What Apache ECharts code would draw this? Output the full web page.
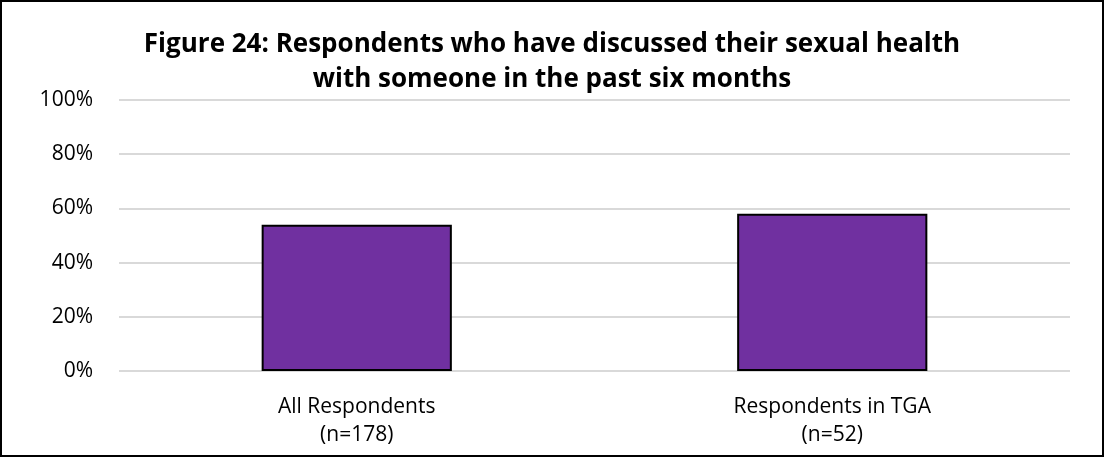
<!DOCTYPE html>
<html>
<head>
<meta charset="utf-8">
<script src="https://cdn.jsdelivr.net/npm/echarts@6/dist/echarts.min.js"></script>
<style>
  html, body { margin: 0; padding: 0; background: #fff; }
  #chart { width: 1104px; height: 457px; box-sizing: border-box; border: 2px solid #000; }
</style>
</head>
<body>
<div id="chart"></div>
<script>
// Survey groups and share who discussed sexual health (%)
const categories = ['All Respondents\n(n=178)', 'Respondents in TGA\n(n=52)'];
const discussedPct = [54, 58];
const yTicks = [0, 20, 40, 60, 80, 100];

const chart = echarts.init(document.getElementById('chart'));
chart.setOption({
  animation: false,
  title: {
    text: 'Figure 24: Respondents who have discussed their sexual health\nwith someone in the past six months',
    left: 'center',
    top: 20,
    textStyle: {
      fontFamily: 'Open Sans',
      fontWeight: 'bold',
      fontSize: 26,
      lineHeight: 35,
      color: '#000'
    }
  },
  grid: { left: 117, right: 32, top: 98, bottom: 84 },
  xAxis: {
    type: 'category',
    data: categories,
    axisLine: { show: false },
    axisTick: { show: false },
    axisLabel: {
      fontFamily: 'Open Sans',
      fontSize: 21,
      lineHeight: 28,
      color: '#000',
      margin: 22
    }
  },
  yAxis: {
    type: 'value',
    min: yTicks[0],
    max: yTicks[yTicks.length - 1],
    interval: 20,
    axisLine: { show: false },
    axisTick: { show: false },
    splitLine: { lineStyle: { color: '#d9d9d9', width: 2 } },
    axisLabel: {
      formatter: '{value}%',
      fontFamily: 'Open Sans',
      fontSize: 21,
      color: '#000',
      margin: 26
    }
  },
  series: [{
    type: 'bar',
    data: discussedPct,
    barWidth: '40%',
    itemStyle: {
      color: '#7030A0',
      borderColor: '#000',
      borderWidth: 2
    }
  }]
});
</script>
</body>
</html>
